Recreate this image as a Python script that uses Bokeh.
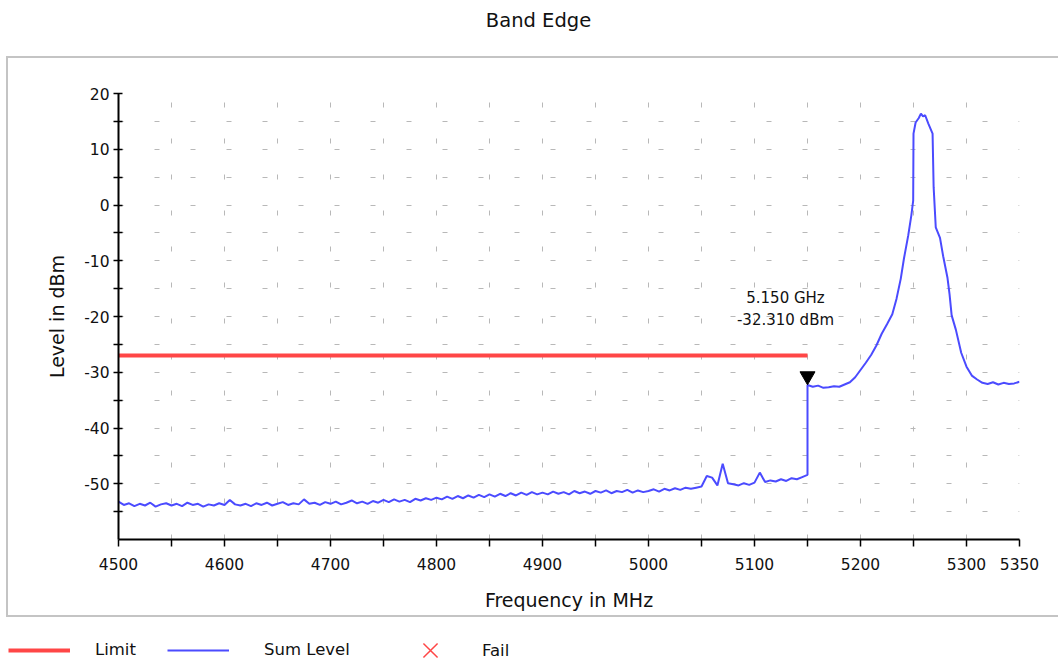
from bokeh.plotting import figure
from bokeh.layouts import column
from bokeh.models import Range1d, FixedTicker, Legend, LegendItem
from bokeh.core.properties import value
from bokeh.embed import file_html
from bokeh.resources import INLINE

# ---------------- data ----------------
TITLE = "Band Edge"
X_LABEL = "Frequency in MHz"
Y_LABEL = "Level in dBm"

NOISE_FREQ = list(range(4500, 5151, 5))
NOISE_LEVEL = [
    -53.2, -53.8, -53.5, -54.0, -53.6, -53.9, -53.4, -54.1, -53.7, -53.5,
    -53.9, -53.6, -54.0, -53.4, -53.8, -53.6, -54.1, -53.7, -53.9, -53.5,
    -53.8, -52.9, -53.7, -53.9, -53.6, -54.0, -53.5, -53.8, -53.4, -53.9,
    -53.6, -53.3, -53.8, -53.5, -53.7, -52.8, -53.6, -53.4, -53.8, -53.3,
    -53.6, -53.2, -53.7, -53.4, -53.0, -53.5, -53.2, -53.6, -53.1, -53.4,
    -52.9, -53.3, -52.8, -53.2, -52.9, -53.3, -52.7, -53.0, -52.6, -52.9,
    -52.5, -52.8, -52.3, -52.7, -52.2, -52.6, -52.1, -52.5, -52.0, -52.4,
    -51.9, -52.3, -51.8, -52.2, -51.7, -52.1, -51.6, -52.0, -51.5, -51.9,
    -51.6, -51.9, -51.4, -51.8, -51.5, -51.9, -51.3, -51.7, -51.4, -51.8,
    -51.3, -51.6, -51.2, -51.7, -51.3, -51.5, -51.1, -51.6, -51.2, -51.5,
    -51.3, -51.0, -51.4, -50.9, -51.2, -50.8, -51.1, -50.7, -50.9, -50.7,
    -50.5, -48.6, -48.9, -50.3, -46.4, -49.9, -50.1, -50.3, -49.9, -50.2,
    -49.8, -48.0, -49.7, -49.4, -49.6, -49.2, -49.5, -49.0, -49.2, -48.8,
    -48.4,
]

SIGNAL_FREQ = [
    5150, 5155, 5160, 5165, 5170, 5175, 5180, 5185, 5190, 5195,
    5200, 5205, 5210, 5215, 5220, 5225, 5230, 5234, 5238, 5241,
    5245, 5248, 5249.7, 5250, 5252, 5255, 5257, 5259, 5261, 5264,
    5268, 5269, 5271, 5275, 5278, 5282, 5284, 5286, 5290, 5295,
    5300, 5305, 5310, 5315, 5320, 5325, 5330, 5335, 5340, 5345, 5350,
]
SIGNAL_LEVEL = [
    -32.3, -32.6, -32.4, -32.8, -32.7, -32.5, -32.6, -32.2, -31.8, -30.9,
    -29.6, -28.3, -26.9, -25.2, -23.1, -21.4, -19.6, -16.8, -13.2, -9.6,
    -5.5, -1.8, 0.8, 12.8, 14.8, 15.6, 16.4, 15.9, 16.1, 14.6,
    12.8, 3.2, -4.0, -5.9, -9.2, -13.0, -16.0, -19.8, -22.4, -26.5,
    -29.0, -30.6, -31.3, -31.9, -32.1, -31.8, -32.2, -31.9, -32.1, -32.0, -31.7,
]

LIMIT_FREQ = [4500, 5150]
LIMIT_LEVEL = [-27.0, -27.0]

MARKER_FREQ = 5150
MARKER_LEVEL = -32.31

FAIL_FREQ = []
FAIL_LEVEL = []

X_TICKS = [4500, 4600, 4700, 4800, 4900, 5000, 5100, 5200, 5300, 5350]
X_MINOR = [4550, 4650, 4750, 4850, 4950, 5050, 5150, 5250]
X_GRID = [4550, 4600, 4650, 4700, 4750, 4800, 4850, 4900, 4950, 5000,
          5050, 5100, 5150, 5200, 5250, 5300, 5350]
Y_TICKS = [-50, -40, -30, -20, -10, 0, 10, 20]
Y_MINOR = [-55, -45, -35, -25, -15, -5, 5, 15]
Y_GRID = [-55, -50, -45, -40, -35, -30, -25, -20, -15, -10, -5, 0, 5, 10, 15, 20]

X_MIN, X_MAX = 4500, 5350
Y_MIN, Y_MAX = -60, 20

# ---------------- styles ----------------
FONT = "DejaVu Sans"
TXT = "#111111"
RED = "#ff4646"
BLUE = "#4b4bff"
BOX = "#c4c4c4"

W = 1060
H_TITLE, H_MAIN, H_LEG = 56, 561, 42
BOX_LEFT = 6
W_MAIN = W - BOX_LEFT - 2
ML, MR, MT, MB = 110, 41, 35, 80


def no_align(fig):
    try:
        fig.frame_align = False
    except Exception:
        pass


# ---------------- title strip ----------------
pt = figure(width=W, height=H_TITLE, output_backend="svg", toolbar_location=None,
            title=None, x_axis_type=None, y_axis_type=None,
            x_range=Range1d(0, W), y_range=Range1d(H_TITLE, 0),
            min_border=0, outline_line_color=None)
pt.grid.visible = False
no_align(pt)
pt.text(x=[538], y=[20], text=[TITLE], text_align="center", text_baseline="middle",
        text_font=value(FONT), text_font_size="19.5px", text_color=TXT)

# ---------------- main chart ----------------
p = figure(width=W_MAIN, height=H_MAIN, output_backend="svg", toolbar_location=None,
           title=None,
           x_range=Range1d(X_MIN, X_MAX), y_range=Range1d(Y_MIN, Y_MAX),
           min_border_left=ML, min_border_right=MR,
           min_border_top=MT, min_border_bottom=MB,
           background_fill_color="white", border_fill_color="white")
p.outline_line_color = None
no_align(p)
p.styles = {"margin-left": f"{BOX_LEFT}px",
            "border-top": f"2px solid {BOX}", "border-left": f"2px solid {BOX}",
            "border-bottom": f"2px solid {BOX}"}

xa, ya = p.xaxis[0], p.yaxis[0]
for ax in (xa, ya):
    ax.axis_line_width = 2
    ax.axis_line_color = "black"
    ax.major_tick_line_width = 1.5
    ax.minor_tick_line_width = 1.5
    ax.major_tick_line_color = "black"
    ax.minor_tick_line_color = "black"
    ax.major_label_text_font = FONT
    ax.major_label_text_font_size = "15.5px"
    ax.major_label_text_color = TXT
    ax.axis_label_text_font = FONT
    ax.axis_label_text_font_size = "19px"
    ax.axis_label_text_font_style = "normal"
    ax.axis_label_text_color = TXT

xa.ticker = FixedTicker(ticks=X_TICKS, minor_ticks=X_MINOR)
xa.axis_label = X_LABEL
xa.major_tick_in, xa.major_tick_out = 0, 7
xa.minor_tick_in, xa.minor_tick_out = 0, 7
xa.major_label_standoff = 11
xa.axis_label_standoff = 16

ya.ticker = FixedTicker(ticks=Y_TICKS, minor_ticks=Y_MINOR)
ya.major_label_overrides = {t: str(t) for t in Y_TICKS}
ya.axis_label = Y_LABEL
ya.major_tick_in, ya.major_tick_out = 4, 5
ya.minor_tick_in, ya.minor_tick_out = 4, 5
ya.major_label_standoff = 4
ya.axis_label_standoff = 13

p.xgrid.ticker = FixedTicker(ticks=X_GRID)
p.ygrid.ticker = FixedTicker(ticks=Y_GRID)
for g in (p.xgrid, p.ygrid):
    g.grid_line_color = "#b8b8b8"
    g.grid_line_width = 1
    g.grid_line_dash = "5 31"

freq_all = NOISE_FREQ + SIGNAL_FREQ
level_all = NOISE_LEVEL + SIGNAL_LEVEL
p.line(LIMIT_FREQ, LIMIT_LEVEL, line_color=RED, line_width=4)
p.line(freq_all, level_all, line_color=BLUE, line_width=2)
p.scatter(FAIL_FREQ, FAIL_LEVEL, marker="x", size=14, line_color=RED, line_width=1.5)

frame_h = H_MAIN - MT - MB
dy = 9 * (Y_MAX - Y_MIN) / frame_h
p.scatter([MARKER_FREQ], [MARKER_LEVEL + dy], marker="inverted_triangle",
          size=15, fill_color="black", line_color="black")
p.text(x=[MARKER_FREQ, MARKER_FREQ], y=[MARKER_LEVEL, MARKER_LEVEL],
       text=[f"{MARKER_FREQ / 1000:.3f} GHz", f"{MARKER_LEVEL:.3f} dBm"],
       x_offset=[-22, -22], y_offset=[-87, -65],
       text_align="center", text_baseline="middle",
       text_font=value(FONT), text_font_size="15px", text_color=TXT)

# ---------------- legend strip ----------------
# proxy renderers carry the series data; the strip's ranges keep them out of view
pl = figure(width=W, height=H_LEG, output_backend="svg", toolbar_location=None,
            title=None, x_axis_type=None, y_axis_type=None,
            x_range=Range1d(0, 1), y_range=Range1d(0, 1),
            min_border=0, outline_line_color=None)
pl.grid.visible = False
no_align(pl)
l_limit = pl.line(LIMIT_FREQ, LIMIT_LEVEL, line_color=RED, line_width=4)
l_sum = pl.line(freq_all, level_all, line_color=BLUE, line_width=2)
l_fail = pl.scatter(FAIL_FREQ + [X_MIN], FAIL_LEVEL + [Y_MIN], marker="x", size=14,
                    line_color=RED, line_width=1.5)

LEG_CY = 33  # row centre, px from strip top


def add_leg(label, rend, x, glyph_h, standoff):
    lg = Legend(items=[LegendItem(label=label, renderers=[rend])],
                location=(x, H_LEG - LEG_CY - glyph_h / 2),
                orientation="horizontal", glyph_width=62, glyph_height=glyph_h,
                label_standoff=standoff, padding=0, margin=0, spacing=0,
                border_line_color=None, background_fill_alpha=0,
                label_text_font=FONT, label_text_font_size="16.5px",
                label_text_color=TXT, label_text_baseline="middle")
    pl.add_layout(lg)


add_leg("Limit", l_limit, 8, 18, 25)
add_leg("Sum Level", l_sum, 167, 18, 35)
add_leg("Fail", l_fail, 399, 50, 21)

layout = column(pt, p, pl, spacing=0)
open("out.html", "w").write(file_html(layout, INLINE))
